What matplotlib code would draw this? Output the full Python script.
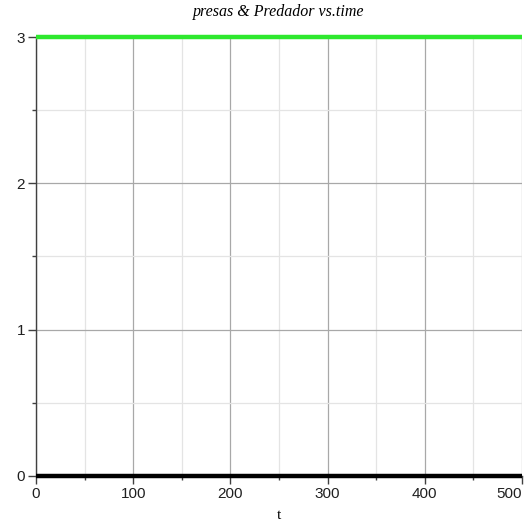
import numpy as np
import matplotlib
matplotlib.use("Agg")
import matplotlib.pyplot as plt
from matplotlib.ticker import MultipleLocator

# model output: both populations stay flat over the run
t = [0, 100, 200, 300, 400, 500]
presas = [0, 0, 0, 0, 0, 0]
predador = [3, 3, 3, 3, 3, 3]
xticks = [0, 100, 200, 300, 400, 500]

fig = plt.figure(figsize=(5.31, 5.24), dpi=100)
ax = fig.add_axes([0.068, 0.092, 0.915, 0.837])

ax.plot(t, predador, color="#2ee82e", lw=3.2, solid_capstyle="butt", zorder=3, clip_on=False)
ax.plot(t, presas, color="black", lw=3.2, solid_capstyle="butt", zorder=3, clip_on=False)

ax.set_xlim(0, 500)
ax.set_ylim(0, 3)
ax.set_xticks(xticks, [str(v) for v in xticks])
ax.xaxis.set_minor_locator(MultipleLocator(50))
ax.yaxis.set_major_locator(MultipleLocator(1))
ax.yaxis.set_minor_locator(MultipleLocator(0.5))

ax.grid(which="major", color="#a8a8a8", lw=0.9)
ax.grid(which="minor", color="#e4e4e4", lw=0.9)
ax.set_axisbelow(True)

for s in ("top", "right"):
    ax.spines[s].set_visible(False)
for s in ("left", "bottom"):
    ax.spines[s].set_color("#404040")
    ax.spines[s].set_linewidth(1.0)

ax.tick_params(which="major", length=6, width=1, color="#404040", labelsize=11,
               labelcolor="#202020", pad=2)
ax.tick_params(which="minor", length=3, width=1, color="#404040")
xlabs = ax.get_xticklabels()
for lab in xlabs + ax.get_yticklabels():
    lab.set_family("Liberation Sans")
# last x label hugs the right edge instead of centring on its tick
xlabs[-1].set_horizontalalignment("right")
xlabs[-1].set_x(1.0)

ax.set_xlabel("t", family="Liberation Serif", fontsize=11, labelpad=6)
ax.set_title("presas & Predador vs.time", family="Liberation Serif", style="italic",
             fontsize=11.5, pad=15)

fig.savefig("out.png", dpi=100)
